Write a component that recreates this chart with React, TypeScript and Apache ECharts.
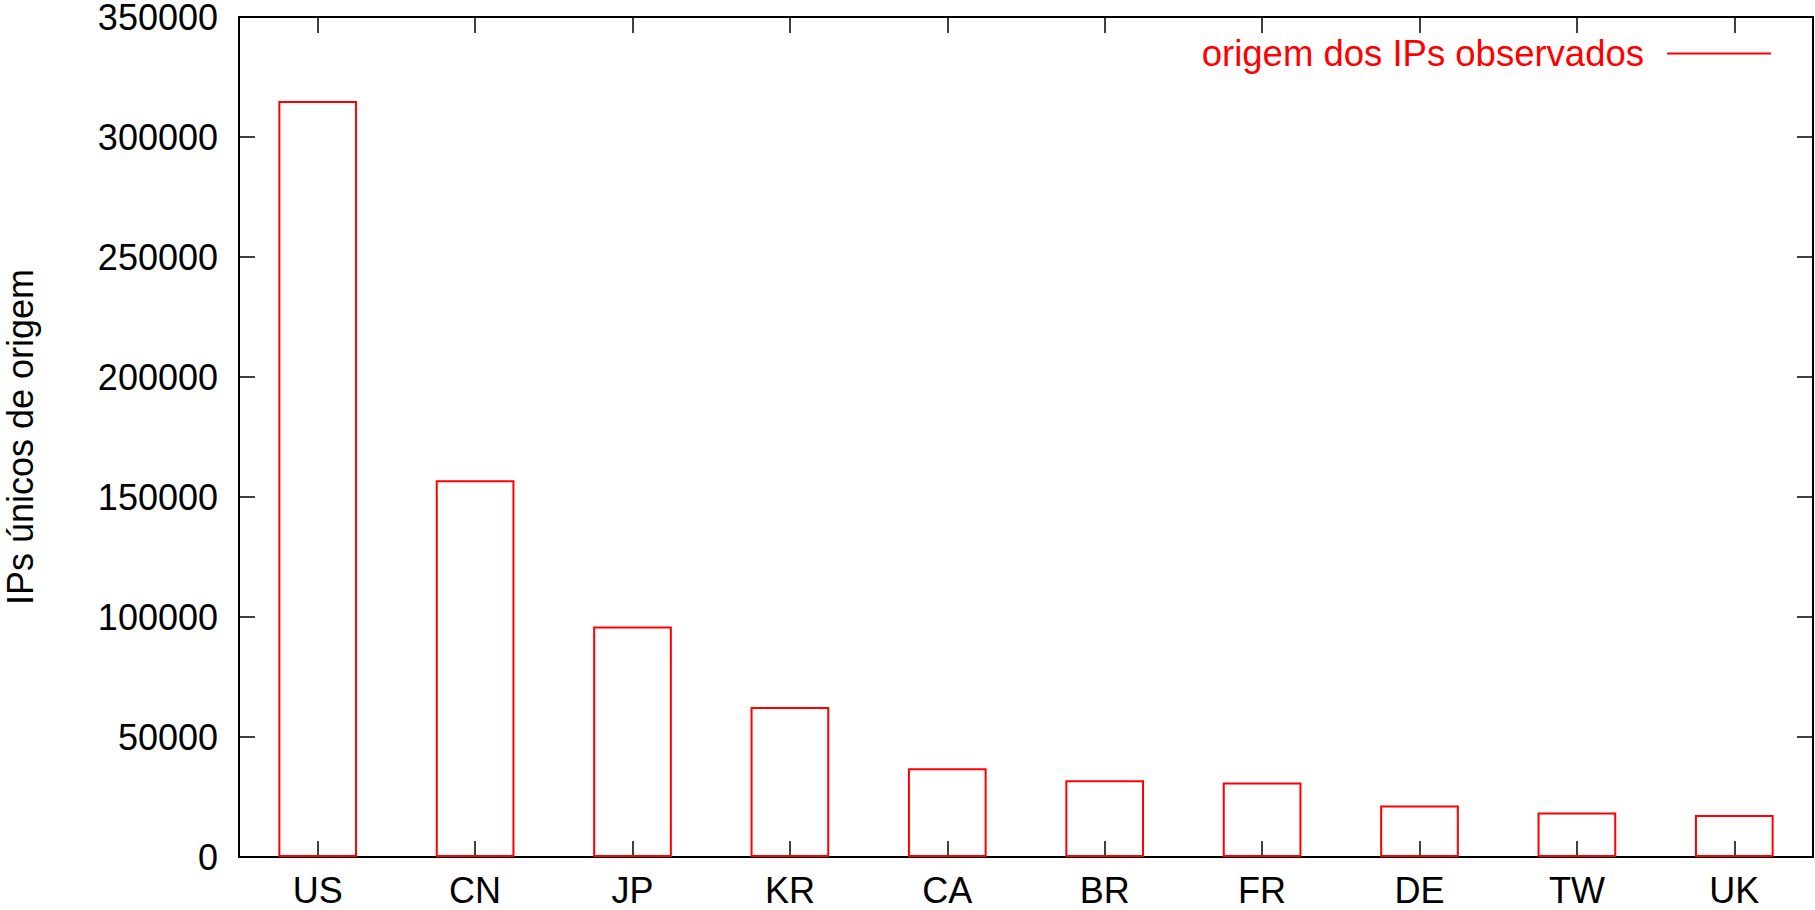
import React, { useEffect, useRef } from "react";
import * as echarts from "echarts";

const categories = ["US", "CN", "JP", "KR", "CA", "BR", "FR", "DE", "TW", "UK"];
const ipCounts = [315000, 157000, 96000, 62500, 37000, 32000, 31000, 21500, 18500, 17500];
const seriesName = "origem dos IPs observados";
const yAxisTitle = "IPs únicos de origem";
const yMin = 0;
const yMax = 350000;
const yStep = 50000;

const FONT = "'Liberation Sans', Arial, Helvetica, sans-serif";
const FS = 36;

export default function App() {
  const ref = useRef<HTMLDivElement>(null);
  useEffect(() => {
    if (!ref.current) return;
    const chart = echarts.init(ref.current, undefined, { renderer: "svg" });
    const axisLine = { show: true, onZero: false, lineStyle: { color: "#000", width: 2 } };
    const tick = () => ({ show: true, inside: true, length: 16, lineStyle: { color: "#000", width: 1.5 } });
    chart.setOption({
      animation: false,
      backgroundColor: "#fff",
      textStyle: { fontFamily: FONT },
      grid: { left: 239, right: 2, top: 17, bottom: 53, containLabel: false, outerBoundsMode: "none" },
      legend: {
        show: true,
        data: [seriesName],
        right: 44,
        top: 35,
        padding: 0,
        align: "right",
        icon: "rect",
        itemWidth: 104,
        itemHeight: 2,
        itemStyle: { color: "#ff0000", borderWidth: 0 },
        textStyle: { color: "#ff0000", fontSize: FS + 0.5, fontFamily: FONT, padding: [0, 18, 0, 0] },
      },
      xAxis: [
        {
          type: "category",
          data: categories,
          position: "bottom",
          axisLine,
          axisTick: { ...tick(), alignWithLabel: true },
          axisLabel: { color: "#000", fontSize: FS, fontFamily: FONT, margin: 15 },
          splitLine: { show: false },
        },
        {
          type: "category",
          data: categories,
          position: "top",
          axisLine,
          axisTick: { ...tick(), alignWithLabel: true },
          axisLabel: { show: false },
          splitLine: { show: false },
        },
      ],
      yAxis: [
        {
          type: "value",
          min: yMin,
          max: yMax,
          interval: yStep,
          position: "left",
          name: yAxisTitle,
          nameLocation: "middle",
          nameRotate: 90,
          nameGap: 201,
          nameTextStyle: { color: "#000", fontSize: FS, fontFamily: FONT },
          axisLine,
          axisTick: tick(),
          axisLabel: {
            color: "#000",
            fontSize: FS,
            fontFamily: FONT,
            lineHeight: 30,
            margin: 21,
            formatter: (v: number) => String(v),
          },
          splitLine: { show: false },
        },
        {
          type: "value",
          min: yMin,
          max: yMax,
          interval: yStep,
          position: "right",
          axisLine,
          axisTick: tick(),
          axisLabel: { show: false },
          splitLine: { show: false },
        },
      ],
      series: [
        {
          name: seriesName,
          type: "bar",
          data: ipCounts,
          barWidth: "50%",
          itemStyle: { color: "rgba(255,255,255,0)", borderColor: "#ff0000", borderWidth: 2 },
          emphasis: { disabled: true },
        },
      ],
    });
    return () => chart.dispose();
  }, []);
  return (
    <div
      ref={ref}
      style={{ position: "fixed", left: 0, top: 0, width: 1815, height: 910, background: "#fff" }}
    />
  );
}
